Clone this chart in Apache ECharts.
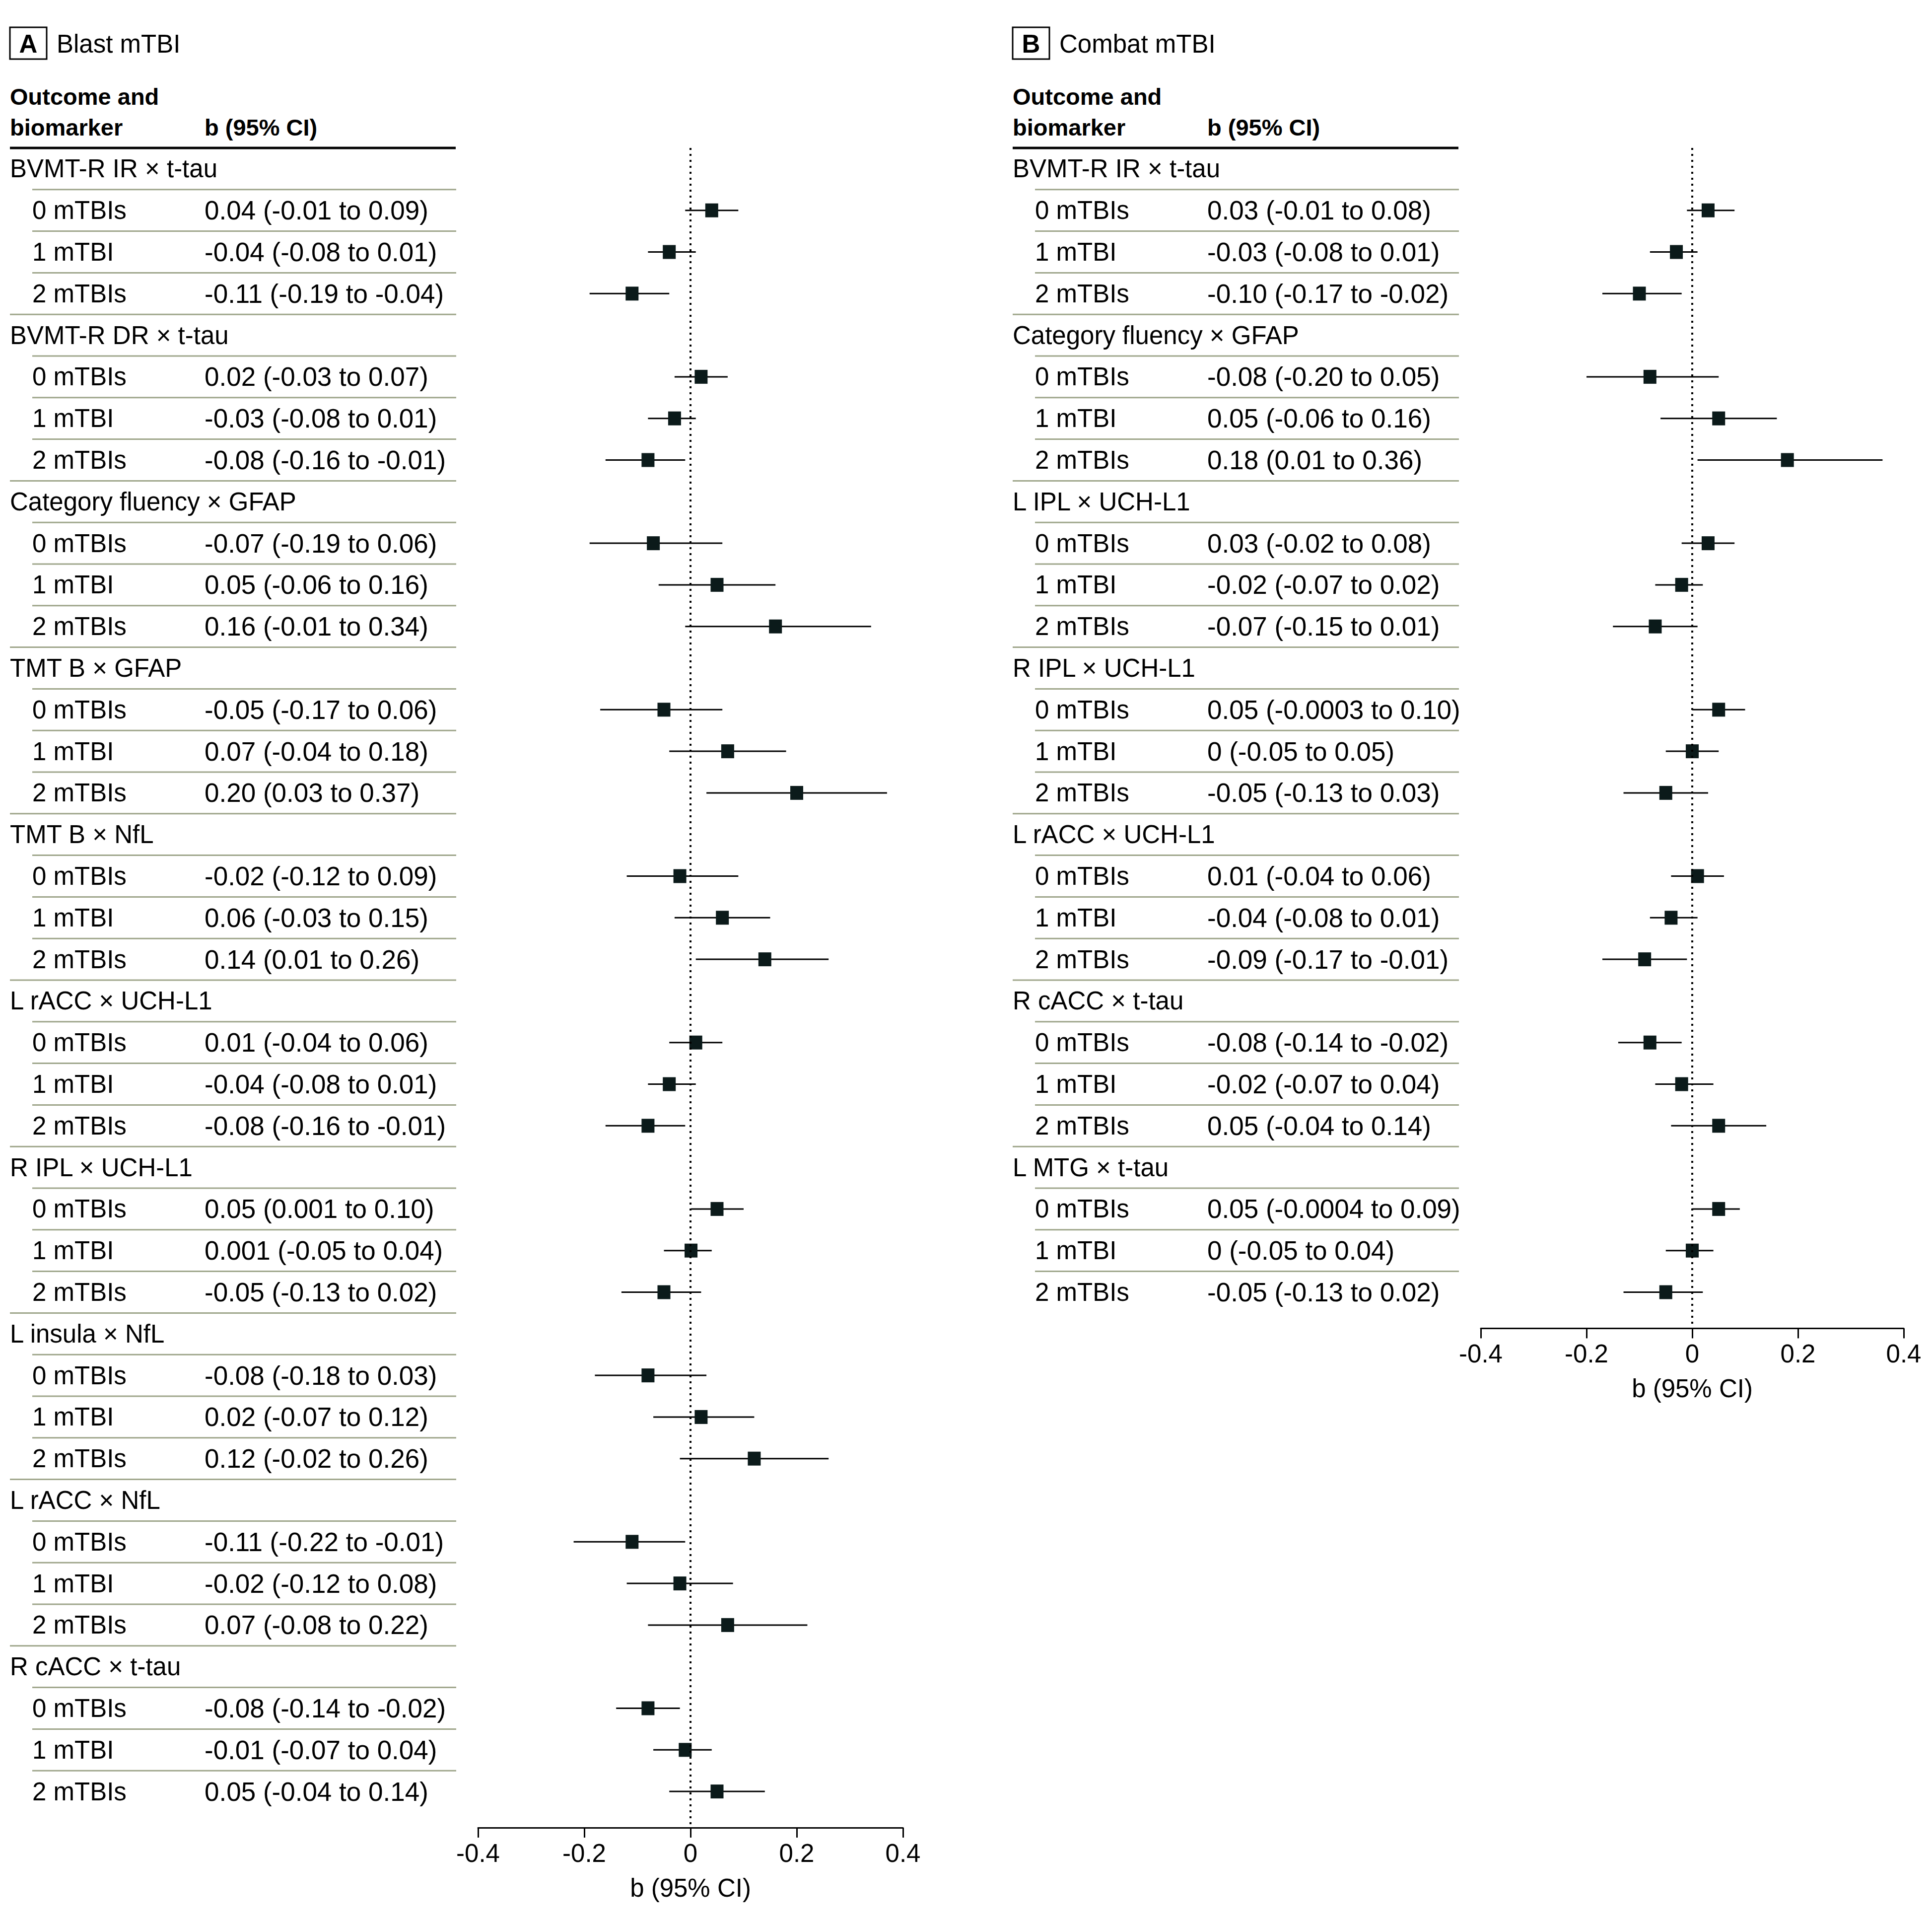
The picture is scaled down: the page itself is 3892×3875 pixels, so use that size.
<!DOCTYPE html>
<html>
<head>
<meta charset="utf-8">
<title>Blast and combat mTBI forest plots</title>
<script src="https://cdn.jsdelivr.net/npm/echarts@6/dist/echarts.min.js"></script>
<style>
  html, body { margin: 0; padding: 0; background: #fff; }
  #chart { width: 3892px; height: 3875px; }
</style>
</head>
<body>
<div id="chart"></div>
<script>
  // rows inside each outcome/biomarker group
  var subLabels = ['0 mTBIs', '1 mTBI', '2 mTBIs']

  // panel A - blast mTBI
  var groupsA = ['BVMT-R IR × t-tau', 'BVMT-R DR × t-tau', 'Category fluency × GFAP', 'TMT B × GFAP',
    'TMT B × NfL', 'L rACC × UCH-L1', 'R IPL × UCH-L1', 'L insula × NfL', 'L rACC × NfL', 'R cACC × t-tau']
  var estA = [0.04, -0.04, -0.11, 0.02, -0.03, -0.08, -0.07, 0.05, 0.16, -0.05, 0.07, 0.20,
    -0.02, 0.06, 0.14, 0.01, -0.04, -0.08, 0.05, 0.001, -0.05, -0.08, 0.02, 0.12,
    -0.11, -0.02, 0.07, -0.08, -0.01, 0.05]
  var loA = [-0.01, -0.08, -0.19, -0.03, -0.08, -0.16, -0.19, -0.06, -0.01, -0.17, -0.04, 0.03,
    -0.12, -0.03, 0.01, -0.04, -0.08, -0.16, 0.001, -0.05, -0.13, -0.18, -0.07, -0.02,
    -0.22, -0.12, -0.08, -0.14, -0.07, -0.04]
  var hiA = [0.09, 0.01, -0.04, 0.07, 0.01, -0.01, 0.06, 0.16, 0.34, 0.06, 0.18, 0.37,
    0.09, 0.15, 0.26, 0.06, 0.01, -0.01, 0.10, 0.04, 0.02, 0.03, 0.12, 0.26,
    -0.01, 0.08, 0.22, -0.02, 0.04, 0.14]

  // panel B - combat mTBI
  var groupsB = ['BVMT-R IR × t-tau', 'Category fluency × GFAP', 'L IPL × UCH-L1', 'R IPL × UCH-L1',
    'L rACC × UCH-L1', 'R cACC × t-tau', 'L MTG × t-tau']
  var estB = [0.03, -0.03, -0.10, -0.08, 0.05, 0.18, 0.03, -0.02, -0.07, 0.05, 0, -0.05,
    0.01, -0.04, -0.09, -0.08, -0.02, 0.05, 0.05, 0, -0.05]
  var loB = [-0.01, -0.08, -0.17, -0.20, -0.06, 0.01, -0.02, -0.07, -0.15, -0.0003, -0.05, -0.13,
    -0.04, -0.08, -0.17, -0.14, -0.07, -0.04, -0.0004, -0.05, -0.13]
  var hiB = [0.08, 0.01, -0.02, 0.05, 0.16, 0.36, 0.08, 0.02, 0.01, 0.10, 0.05, 0.03,
    0.06, 0.01, -0.01, -0.02, 0.04, 0.14, 0.09, 0.04, 0.02]

  var xTicks = [-0.4, -0.2, 0, 0.2, 0.4]

  var FONT = "'Liberation Sans', Arial, sans-serif"
  var FS = 51
  var RULE = '#9fa68b'
  var MARK = '#0b1a1a'
  var rowH = 83.8
  var gridTop = 298

  function fmt(v) {
    if (v === 0) return '0'
    if (Math.abs(v) < 0.01) return String(v)
    return v.toFixed(2)
  }

  function buildRows(groups, est, lo, hi) {
    var rows = []
    groups.forEach(function (g, gi) {
      rows.push({kind: 'group', label: g, first: gi === 0})
      subLabels.forEach(function (s, k) {
        var j = gi * 3 + k
        rows.push({kind: 'sub', label: s, est: est[j], lo: lo[j], hi: hi[j]})
      })
    })
    return rows
  }

  var rowsA = buildRows(groupsA, estA, loA, hiA)
  var rowsB = buildRows(groupsB, estB, loB, hiB)

  function txt(x, y, s, opt) {
    opt = opt || {}
    return {
      type: 'text', x: x, y: y, silent: true,
      style: {
        text: s, fill: '#000', fontSize: opt.size || FS, fontFamily: FONT,
        fontWeight: opt.bold ? 'bold' : 'normal',
        align: opt.align || 'left', verticalAlign: 'middle'
      }
    }
  }

  function tableRender(rows) {
    var indent = 45, ciX = 392
    return function (params, api) {
      var r = rows[params.dataIndex]
      var i = api.value(1)
      var y = api.coord([0, i])[1]
      var yTop = api.coord([0, i - 0.5])[1]
      var left = params.coordSys.x
      var right = left + params.coordSys.width
      var kids = []
      if (r.kind === 'group') {
        if (!r.first) {
          kids.push({type: 'line', shape: {x1: left, y1: yTop, x2: right, y2: yTop},
            style: {stroke: RULE, lineWidth: 3}})
        }
        kids.push(txt(left, y, r.label))
      } else {
        kids.push({type: 'line', shape: {x1: left + indent, y1: yTop, x2: right, y2: yTop},
          style: {stroke: RULE, lineWidth: 3}})
        kids.push(txt(left + indent, y, r.label))
        kids.push(txt(left + ciX, y, fmt(r.est) + ' (' + fmt(r.lo) + ' to ' + fmt(r.hi) + ')', {size: 53}))
      }
      return {type: 'group', children: kids}
    }
  }

  function whiskerRender(params, api) {
    var p1 = api.coord([api.value(0), api.value(1)])
    var p2 = api.coord([api.value(2), api.value(1)])
    return {
      type: 'line',
      shape: {x1: p1[0], y1: p1[1], x2: p2[0], y2: p2[1]},
      style: {stroke: '#000', lineWidth: 3}
    }
  }

  function panel(rows, idx, tableLeft, plotLeft, plotWidth) {
    var n = rows.length
    var yMax = n - 1 + 0.87
    var h = (yMax + 0.5) * rowH
    var grids = [
      {left: tableLeft, top: gridTop, width: 899, height: h},
      {left: plotLeft, top: gridTop, width: plotWidth, height: h}
    ]
    var xAxes = [
      {gridIndex: idx * 2, type: 'value', min: 0, max: 1, show: false},
      {
        gridIndex: idx * 2 + 1, type: 'value', position: 'bottom',
        min: xTicks[0], max: xTicks[xTicks.length - 1], interval: xTicks[1] - xTicks[0],
        splitLine: {show: false},
        axisLine: {onZero: false, lineStyle: {color: '#000', width: 3}},
        axisTick: {length: 20, lineStyle: {color: '#000', width: 3}},
        axisLabel: {color: '#000', fontSize: FS, fontFamily: FONT, margin: 26},
        name: 'b (95% CI)', nameLocation: 'middle', nameGap: 96,
        nameTextStyle: {color: '#000', fontSize: FS, fontFamily: FONT}
      }
    ]
    var yAxes = [0, 1].map(function (k) {
      return {gridIndex: idx * 2 + k, type: 'value', inverse: true, min: -0.5, max: yMax, show: false}
    })
    var tableData = rows.map(function (r, i) { return [0, i] })
    var ciData = [], pointData = []
    rows.forEach(function (r, i) {
      if (r.kind === 'sub') {
        ciData.push([r.lo, i, r.hi])
        pointData.push([r.est, i])
      }
    })
    var series = [
      {
        type: 'custom', xAxisIndex: idx * 2, yAxisIndex: idx * 2, clip: false,
        renderItem: tableRender(rows), data: tableData, silent: true
      },
      {
        type: 'custom', xAxisIndex: idx * 2 + 1, yAxisIndex: idx * 2 + 1,
        renderItem: whiskerRender, encode: {x: [0, 2], y: 1}, data: ciData, z: 3, silent: true
      },
      {
        type: 'scatter', xAxisIndex: idx * 2 + 1, yAxisIndex: idx * 2 + 1,
        symbol: 'rect', symbolSize: [26, 28], itemStyle: {color: MARK, opacity: 1},
        data: pointData, z: 4, silent: true,
        markLine: {
          silent: true, symbol: ['none', 'none'], label: {show: false},
          lineStyle: {color: '#000', width: 4, type: [4, 8]},
          data: [{xAxis: 0}]
        }
      }
    ]
    return {grids: grids, xAxes: xAxes, yAxes: yAxes, series: series}
  }

  var pA = panel(rowsA, 0, 20, 963, 856)
  var pB = panel(rowsB, 1, 2040, 2983, 852)

  function header(dx, letter, title) {
    return [
      {type: 'rect', shape: {x: 20 + dx, y: 55, width: 74, height: 64},
        style: {fill: 'none', stroke: '#000', lineWidth: 3}, silent: true},
      txt(57 + dx, 88, letter, {bold: true, align: 'center'}),
      txt(114 + dx, 88, title),
      txt(20 + dx, 194, 'Outcome and', {bold: true, size: 47}),
      txt(20 + dx, 256, 'biomarker', {bold: true, size: 47}),
      txt(412 + dx, 256, 'b (95% CI)', {bold: true, size: 47}),
      {type: 'line', shape: {x1: 20 + dx, y1: gridTop, x2: 918 + dx, y2: gridTop},
        style: {stroke: '#000', lineWidth: 5}, silent: true}
    ]
  }

  var chart = echarts.init(document.getElementById('chart'), null, {renderer: 'svg'})
  chart.setOption({
    backgroundColor: '#fff',
    animation: false,
    grid: pA.grids.concat(pB.grids),
    xAxis: pA.xAxes.concat(pB.xAxes),
    yAxis: pA.yAxes.concat(pB.yAxes),
    series: pA.series.concat(pB.series),
    graphic: header(0, 'A', 'Blast mTBI').concat(header(2020, 'B', 'Combat mTBI'))
  })
</script>
</body>
</html>
